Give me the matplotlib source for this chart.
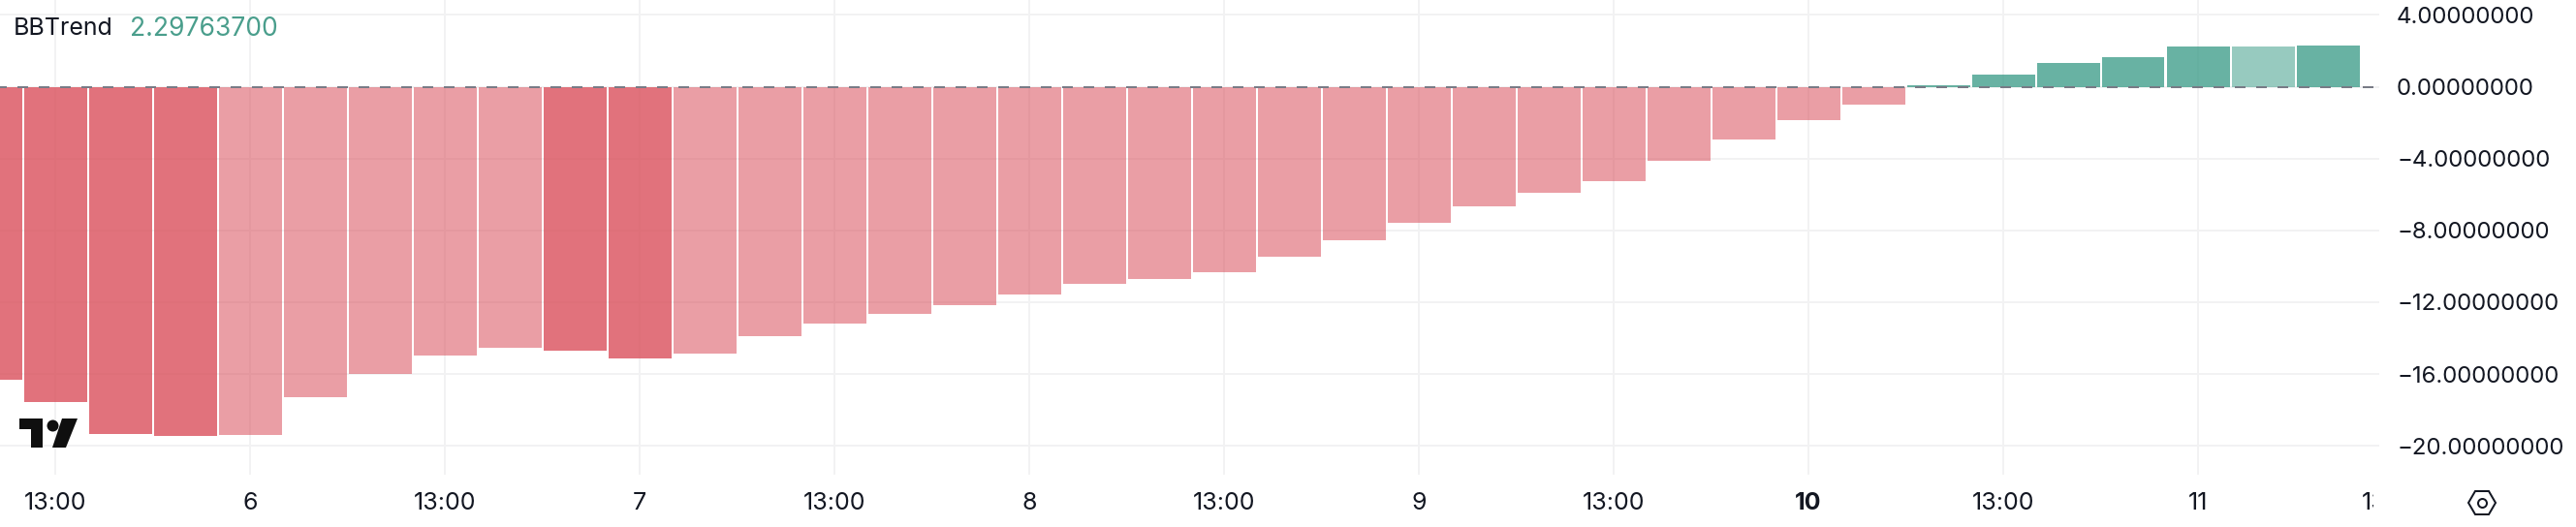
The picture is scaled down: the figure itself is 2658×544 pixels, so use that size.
import matplotlib
matplotlib.use("Agg")
import matplotlib.pyplot as plt
from matplotlib.patches import Polygon
from matplotlib.transforms import Bbox, blended_transform_factory

plt.rcParams['font.family'] = ['Inter', 'DejaVu Sans']
plt.rcParams['lines.scale_dashes'] = False

# ---- data ----
bar_index = list(range(-1, 36))
values = [-16.30, -17.54, -19.32, -19.43, -19.37, -17.27, -15.98, -14.95, -14.52, -14.68,
          -15.11, -14.84, -13.87, -13.17, -12.63, -12.15, -11.55, -10.96, -10.69, -10.31,
          -9.45, -8.53, -7.56, -6.65, -5.89, -5.24, -4.11, -2.92, -1.84, -0.98,
          0.08, 0.67, 1.32, 1.65, 2.24, 2.24, 2.29763700]
strong_bars = [-1, 0, 1, 2, 8, 9, 29, 30, 31, 32, 33, 35]
x_tick_positions = [0, 3, 6, 9, 12, 15, 18, 21, 24, 27, 30, 33, 36]
x_tick_labels = ['13:00', '6', '13:00', '7', '13:00', '8', '13:00', '9', '13:00', '10', '13:00', '11', '13:00']
y_ticks = [4, 0, -4, -8, -12, -16, -20]
indicator_name = 'BBTrend'
indicator_value = '2.29763700'

# ---- style ----
W, H = 2658, 544
PX = 72 / 100
RED, GREEN = '#DA4F5B', '#429F8C'
GRID = '#F2F2F3'
TEXT = '#131722'

fig = plt.figure(figsize=(W / 100, H / 100), dpi=100, facecolor='white')
ax = fig.add_axes([0, (H - 490) / H, 2455 / W, 490 / H])
ax.set_facecolor('white')
for s in ax.spines.values():
    s.set_visible(False)
ax.set_xlim(-57 / 67, (2455 - 57) / 67)
ax.set_ylim(-(490 - 89.5) / 18.54, 89.5 / 18.54)

for y in y_ticks:
    ax.axhline(y, color=GRID, lw=2 * PX, zorder=1)
for x in x_tick_positions:
    ax.axvline(x, color=GRID, lw=2 * PX, zorder=1)

colors = [RED if v < 0 else GREEN for v in values]
alphas = [0.8 if k in strong_bars else 0.55 for k in bar_index]
for k, v, c, a in zip(bar_index, values, colors, alphas):
    ax.bar(k, v, width=65 / 67, color=c, alpha=a, linewidth=0, zorder=2)

ax.axhline(0, color='#787B86', lw=2 * PX, zorder=3,
           linestyle=(4 * PX, (11 * PX, 11 * PX)), dash_capstyle='butt')

# y tick labels
ax.yaxis.tick_right()
ax.set_yticks(y_ticks)
ax.set_yticklabels([f'{v:.8f}'.replace('-', '\u2212') for v in y_ticks],
                   fontsize=24 * PX, color=TEXT)
ax.tick_params(axis='y', length=0, pad=18 * PX)

# x tick labels, clipped near the pane edge like the original
ax.set_xticks([])
tr = blended_transform_factory(ax.transData, fig.transFigure)
clip = Bbox([[0, 0], [2449, H]])
for x, lab in zip(x_tick_positions, x_tick_labels):
    t = ax.text(x, 1 - 519 / H, lab, transform=tr, ha='center', va='center',
                fontsize=25 * PX, color=TEXT,
                fontweight='bold' if lab == '10' else 'normal', clip_on=True)
    t.set_clip_box(clip)

# legend
fig.text(14 / W, 1 - 30 / H, indicator_name, fontsize=25 * PX, color=TEXT, va='center', ha='left')
fig.text(134 / W, 1 - 30 / H, indicator_value, fontsize=26.5 * PX, color='#4A9E8C', va='center', ha='left')

# pixel helper for decorative icons
def P(pts):
    return [(x / W, 1 - y / H) for x, y in pts]

# TradingView logo
logo = '#0F0F0F'
fig.add_artist(Polygon(P([(20, 432), (44, 432), (44, 462), (32, 462), (32, 443), (20, 443)]),
                       closed=True, fc=logo, ec='none', transform=fig.transFigure))
fig.add_artist(Polygon(P([(64, 432), (80, 432), (68, 462), (54, 462)]),
                       closed=True, fc=logo, ec='none', transform=fig.transFigure))
fig.add_artist(plt.Line2D([54 / W], [1 - 438.5 / H], marker='o', ms=12 * PX, color=logo, mew=0,
                          transform=fig.transFigure))

# settings icon
fig.add_artist(Polygon(P([(2547, 519), (2554, 507), (2568, 507), (2575, 519), (2568, 531), (2554, 531)]),
                       closed=True, fc='none', ec=TEXT, lw=2 * PX, transform=fig.transFigure))
fig.add_artist(plt.Line2D([2561 / W], [1 - 519 / H], marker='o', ms=9 * PX, mfc='none', mec=TEXT,
                          mew=2 * PX, transform=fig.transFigure))

fig.savefig('out.png', dpi=100, facecolor='white')
